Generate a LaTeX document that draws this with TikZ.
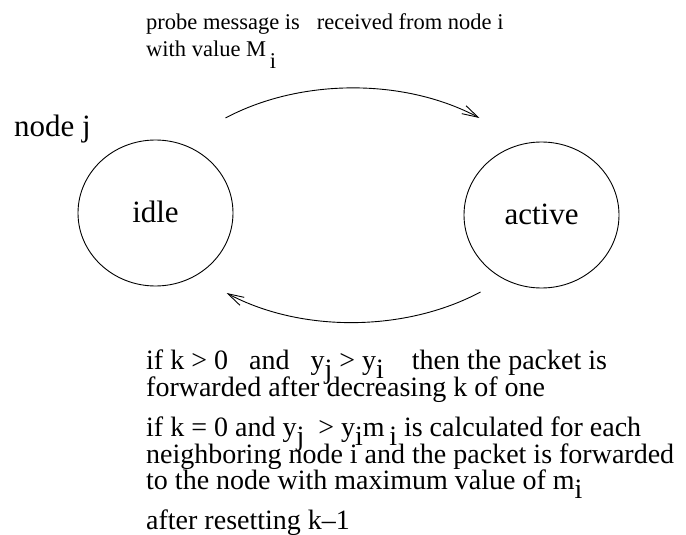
\documentclass[tikz,border=0pt]{standalone}
\usepackage{fontspec}
\setmainfont{Liberation Serif}
\usetikzlibrary{shapes.geometric, arrows.meta}

\newcommand{\lowsub}[2][9pt]{\raisebox{-#1}{#2}}

\tikzset{
    state/.style={ellipse, draw, line width=0.9pt, minimum width=155pt, minimum height=146pt,
        inner sep=0pt, text depth=0.25em, font=\fontsize{31}{37}\selectfont},
    note/.style={anchor=base west, inner sep=0pt, font=\fontsize{28}{34}\selectfont},
    small note/.style={note, font=\fontsize{22.5}{27}\selectfont},
    move/.style={line width=0.9pt, -{Straight Barb[length=16pt,width=9pt]}}
}

\begin{document}
\begin{tikzpicture}[x=1pt, y=-1pt]
    \useasboundingbox (0,0) rectangle (686,535);

    \node[state] (idle) at (155.5,213) {idle};
    \node[state] (active) at (541.5,215) {active};

    \node[note, font=\fontsize{31}{37}\selectfont] (nodej) at (14,136) {node j};

    \node[small note] (probe1) at (146,30) {probe message is\ \ \ received from node i};
    \node[small note] (probe2) at (146,57) {with value M\,\lowsub[12pt]{i}};

    \node[note] (rule1) at (146,369) {if k > 0\ \ \ and\ \ \ y\lowsub{j} > y\lowsub{i}\ \ \ \ then the packet is};
    \node[note] (rule2) at (146,396) {forwarded after decreasing k of one};
    \node[note] (rule3) at (146,436) {if k = 0 and y\lowsub{j}\ \ > y\lowsub{i}m\,\lowsub{i} is calculated for each};
    \node[note] (rule4) at (146,463) {neighboring node i and the packet is forwarded};
    \node[note] (rule5) at (146,489) {to the node with maximum value of m\lowsub{i}};
    \node[note] (rule6) at (146,529) {after resetting k--1};

    \coordinate (probe from) at ([shift={(70,-95)}]idle.center);
    \coordinate (probe to) at ([shift={(-62,-97)}]active.center);
    \coordinate (back from) at ([shift={(-61,77)}]active.center);
    \coordinate (back to) at ([shift={(71,80)}]idle.center);

    \draw[move] (probe from) .. controls +(75,-40) and +(-75,-40) .. (probe to);
    \draw[move] (back from) .. controls +(-75,40) and +(75,40) .. (back to);
\end{tikzpicture}
\end{document}
